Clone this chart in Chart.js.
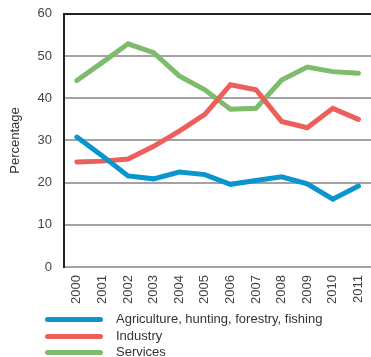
<!DOCTYPE html>
<html>
<head>
<meta charset="utf-8">
<script src="https://cdn.jsdelivr.net/npm/chart.js@4"></script>
<style>
  html, body { margin: 0; padding: 0; background: #fff; overflow: hidden; }
  #wrap { position: relative; width: 371px; height: 357px; overflow: hidden; }
  #chart { display: block; margin-top: -6px; }
  #legend { position: absolute; left: 45px; top: 311px; font-family: "Liberation Sans", Arial, sans-serif; font-size: 13px; color: #333; }
  #legend div { height: 16.5px; line-height: 16.5px; white-space: nowrap; }
  #legend span.sw { display: inline-block; width: 58px; height: 5px; border-radius: 3px; vertical-align: middle; margin-right: 13px; }
</style>
</head>
<body>
<div id="wrap">
  <canvas id="chart" width="382" height="318"></canvas>
  <div id="legend"></div>
</div>
<script>
// years on the x axis
const years = ['2000', '2001', '2002', '2003', '2004', '2005', '2006', '2007', '2008', '2009', '2010', '2011'];

// share of each sector, percent
const agriculture = [30.8, 26.3, 21.6, 20.9, 22.5, 21.9, 19.6, 20.5, 21.4, 19.7, 16.1, 19.2];
const industry    = [24.9, 25.1, 25.6, 28.6, 32.2, 36.2, 43.2, 42.0, 34.5, 33.0, 37.6, 35.0];
const services    = [44.2, 48.5, 52.9, 50.8, 45.3, 42.0, 37.4, 37.6, 44.3, 47.4, 46.3, 45.9];

const seriesNames = ['Agriculture, hunting, forestry, fishing', 'Industry', 'Services'];
const seriesColors = ['#0a95cf', '#ec5f5b', '#7fbb6c'];
const yTicks = { min: 0, max: 60, step: 10 };

const font = "'Liberation Sans', Arial, sans-serif";

const ctx = document.getElementById('chart').getContext('2d');
const chart = new Chart(ctx, {
    type: 'line',
    data: {
        labels: years,
        datasets: [agriculture, industry, services].map((vals, i) => ({
            label: seriesNames[i],
            data: vals,
            borderColor: seriesColors[i],
            backgroundColor: seriesColors[i],
            borderWidth: 5,
            pointRadius: 0,
            tension: 0,
            borderCapStyle: 'round',
            borderJoinStyle: 'miter'
        }))
    },
    options: {
        responsive: false,
        animation: false,
        layout: { padding: { top: 0, right: 0, left: 8, bottom: 0 } },
        plugins: {
            legend: { display: false },
            tooltip: { enabled: false }
        },
        scales: {
            x: {
                offset: true,
                grid: { display: false, drawTicks: false },
                border: { display: true, color: '#a3a3a3', width: 2 },
                ticks: {
                    minRotation: 90,
                    maxRotation: 90,
                    padding: 8,
                    color: '#444',
                    font: { family: font, size: 13 }
                }
            },
            y: {
                min: yTicks.min,
                max: yTicks.max,
                grid: {
                    drawTicks: false,
                    lineWidth: 2,
                    color: c => c.tick && c.tick.value === yTicks.max ? '#222' : '#a3a3a3'
                },
                border: { display: true, color: '#222', width: 2 },
                ticks: {
                    stepSize: yTicks.step,
                    padding: 12,
                    color: '#444',
                    font: { family: font, size: 13 }
                },
                title: {
                    display: true,
                    text: 'Percentage',
                    color: '#333',
                    padding: { top: 0, bottom: 2 },
                    font: { family: font, size: 13 }
                }
            }
        }
    }
});

// legend stacked under the chart, one row per series
const legend = document.getElementById('legend');
chart.data.datasets.forEach(ds => {
    const row = document.createElement('div');
    const sw = document.createElement('span');
    sw.className = 'sw';
    sw.style.background = ds.borderColor;
    row.appendChild(sw);
    row.appendChild(document.createTextNode(ds.label));
    legend.appendChild(row);
});
</script>
</body>
</html>
